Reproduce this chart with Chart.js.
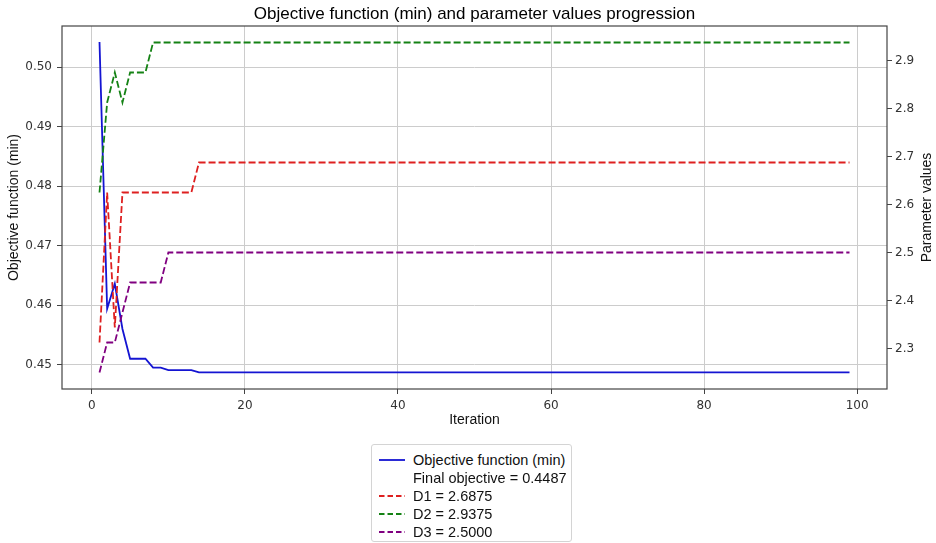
<!DOCTYPE html>
<html>
<head>
<meta charset="utf-8">
<title>Objective function and parameter progression</title>
<script src="https://cdn.jsdelivr.net/npm/chart.js@4.4.1/dist/chart.umd.min.js"></script>
<style>
  html, body { margin: 0; padding: 0; background: #fff; }
  #wrap { position: relative; width: 936px; height: 543px; }
  #legend {
    position: absolute; left: 371px; top: 444px; width: 201px; height: 98px;
    box-sizing: border-box; border: 1px solid #d4d4d4; border-radius: 3px; background: #fff;
    font-family: "Liberation Sans", Arial, sans-serif; font-size: 14.5px; color: #111;
  }
  #legend .row { position: absolute; left: 0; height: 18px; line-height: 18px; white-space: nowrap; }
  #legend svg { position: absolute; left: 7px; top: 0; }
  #legend span { position: absolute; left: 41px; top: 0; }
</style>
</head>
<body>
<div id="wrap">
  <canvas id="chart" width="936" height="543"></canvas>
  <div id="legend"></div>
</div>
<script>
// Iteration numbers (x axis)
const iterations = [
   1,  2,  3,  4,  5,  6,  7,  8,  9, 10,
  11, 12, 13, 14, 15, 16, 17, 18, 19, 20,
  21, 22, 23, 24, 25, 26, 27, 28, 29, 30,
  31, 32, 33, 34, 35, 36, 37, 38, 39, 40,
  41, 42, 43, 44, 45, 46, 47, 48, 49, 50,
  51, 52, 53, 54, 55, 56, 57, 58, 59, 60,
  61, 62, 63, 64, 65, 66, 67, 68, 69, 70,
  71, 72, 73, 74, 75, 76, 77, 78, 79, 80,
  81, 82, 83, 84, 85, 86, 87, 88, 89, 90,
  91, 92, 93, 94, 95, 96, 97, 98, 99
];

// Best objective value found so far (minimisation)
const objective = [
  0.5042, 0.4594, 0.4636, 0.4560, 0.4510, 0.4510, 0.4510, 0.4495, 0.4495, 0.4491,
  0.4491, 0.4491, 0.4491, 0.4487, 0.4487, 0.4487, 0.4487, 0.4487, 0.4487, 0.4487,
  0.4487, 0.4487, 0.4487, 0.4487, 0.4487, 0.4487, 0.4487, 0.4487, 0.4487, 0.4487,
  0.4487, 0.4487, 0.4487, 0.4487, 0.4487, 0.4487, 0.4487, 0.4487, 0.4487, 0.4487,
  0.4487, 0.4487, 0.4487, 0.4487, 0.4487, 0.4487, 0.4487, 0.4487, 0.4487, 0.4487,
  0.4487, 0.4487, 0.4487, 0.4487, 0.4487, 0.4487, 0.4487, 0.4487, 0.4487, 0.4487,
  0.4487, 0.4487, 0.4487, 0.4487, 0.4487, 0.4487, 0.4487, 0.4487, 0.4487, 0.4487,
  0.4487, 0.4487, 0.4487, 0.4487, 0.4487, 0.4487, 0.4487, 0.4487, 0.4487, 0.4487,
  0.4487, 0.4487, 0.4487, 0.4487, 0.4487, 0.4487, 0.4487, 0.4487, 0.4487, 0.4487,
  0.4487, 0.4487, 0.4487, 0.4487, 0.4487, 0.4487, 0.4487, 0.4487, 0.4487
];

// Parameter D1
const d1 = [
  2.3125, 2.625, 2.34375, 2.625, 2.625, 2.625, 2.625, 2.625, 2.625, 2.625,
  2.625, 2.625, 2.625, 2.6875, 2.6875, 2.6875, 2.6875, 2.6875, 2.6875, 2.6875,
  2.6875, 2.6875, 2.6875, 2.6875, 2.6875, 2.6875, 2.6875, 2.6875, 2.6875, 2.6875,
  2.6875, 2.6875, 2.6875, 2.6875, 2.6875, 2.6875, 2.6875, 2.6875, 2.6875, 2.6875,
  2.6875, 2.6875, 2.6875, 2.6875, 2.6875, 2.6875, 2.6875, 2.6875, 2.6875, 2.6875,
  2.6875, 2.6875, 2.6875, 2.6875, 2.6875, 2.6875, 2.6875, 2.6875, 2.6875, 2.6875,
  2.6875, 2.6875, 2.6875, 2.6875, 2.6875, 2.6875, 2.6875, 2.6875, 2.6875, 2.6875,
  2.6875, 2.6875, 2.6875, 2.6875, 2.6875, 2.6875, 2.6875, 2.6875, 2.6875, 2.6875,
  2.6875, 2.6875, 2.6875, 2.6875, 2.6875, 2.6875, 2.6875, 2.6875, 2.6875, 2.6875,
  2.6875, 2.6875, 2.6875, 2.6875, 2.6875, 2.6875, 2.6875, 2.6875, 2.6875
];

// Parameter D2
const d2 = [
  2.625, 2.8125, 2.875, 2.8125, 2.875, 2.875, 2.875, 2.9375, 2.9375, 2.9375,
  2.9375, 2.9375, 2.9375, 2.9375, 2.9375, 2.9375, 2.9375, 2.9375, 2.9375, 2.9375,
  2.9375, 2.9375, 2.9375, 2.9375, 2.9375, 2.9375, 2.9375, 2.9375, 2.9375, 2.9375,
  2.9375, 2.9375, 2.9375, 2.9375, 2.9375, 2.9375, 2.9375, 2.9375, 2.9375, 2.9375,
  2.9375, 2.9375, 2.9375, 2.9375, 2.9375, 2.9375, 2.9375, 2.9375, 2.9375, 2.9375,
  2.9375, 2.9375, 2.9375, 2.9375, 2.9375, 2.9375, 2.9375, 2.9375, 2.9375, 2.9375,
  2.9375, 2.9375, 2.9375, 2.9375, 2.9375, 2.9375, 2.9375, 2.9375, 2.9375, 2.9375,
  2.9375, 2.9375, 2.9375, 2.9375, 2.9375, 2.9375, 2.9375, 2.9375, 2.9375, 2.9375,
  2.9375, 2.9375, 2.9375, 2.9375, 2.9375, 2.9375, 2.9375, 2.9375, 2.9375, 2.9375,
  2.9375, 2.9375, 2.9375, 2.9375, 2.9375, 2.9375, 2.9375, 2.9375, 2.9375
];

// Parameter D3
const d3 = [
  2.25, 2.3125, 2.3125, 2.375, 2.4375, 2.4375, 2.4375, 2.4375, 2.4375, 2.5,
  2.5, 2.5, 2.5, 2.5, 2.5, 2.5, 2.5, 2.5, 2.5, 2.5,
  2.5, 2.5, 2.5, 2.5, 2.5, 2.5, 2.5, 2.5, 2.5, 2.5,
  2.5, 2.5, 2.5, 2.5, 2.5, 2.5, 2.5, 2.5, 2.5, 2.5,
  2.5, 2.5, 2.5, 2.5, 2.5, 2.5, 2.5, 2.5, 2.5, 2.5,
  2.5, 2.5, 2.5, 2.5, 2.5, 2.5, 2.5, 2.5, 2.5, 2.5,
  2.5, 2.5, 2.5, 2.5, 2.5, 2.5, 2.5, 2.5, 2.5, 2.5,
  2.5, 2.5, 2.5, 2.5, 2.5, 2.5, 2.5, 2.5, 2.5, 2.5,
  2.5, 2.5, 2.5, 2.5, 2.5, 2.5, 2.5, 2.5, 2.5, 2.5,
  2.5, 2.5, 2.5, 2.5, 2.5, 2.5, 2.5, 2.5, 2.5
];

// Tick positions
const xTicks = [0, 20, 40, 60, 80, 100];
const objTicks = [0.45, 0.46, 0.47, 0.48, 0.49, 0.50];
const paramTicks = [2.3, 2.4, 2.5, 2.6, 2.7, 2.8, 2.9];

// Texts
const chartTitle = 'Objective function (min) and parameter values progression';
const xTitle = 'Iteration';
const objTitle = 'Objective function (min)';
const paramTitle = 'Parameter values';

const SANS = '"Liberation Sans", Arial, sans-serif';
const TICK_FONT = { family: '"DejaVu Sans", sans-serif', size: 12 };
const TICK_COLOR = '#333';
const GRID_COLOR = '#cccccc';
const SPINE_COLOR = '#444';

const last = arr => arr[arr.length - 1];
const pts = arr => arr.map((v, i) => ({ x: iterations[i], y: v }));

const series = [
  { label: objTitle, data: objective, color: '#1414d2', dash: [], axis: 'y', order: 3 },
  { label: 'D1 = ' + last(d1).toFixed(4), data: d1, color: '#de2020', dash: [7, 3], axis: 'y2', order: 2 },
  { label: 'D2 = ' + last(d2).toFixed(4), data: d2, color: '#148214', dash: [7, 3], axis: 'y2', order: 1 },
  { label: 'D3 = ' + last(d3).toFixed(4), data: d3, color: '#800080', dash: [7, 3], axis: 'y2', order: 0 }
];

const fixedTicks = values => axis => { axis.ticks = values.map(v => ({ value: v })); };

// Frame, plot title and right-hand axis title
const decor = {
  id: 'decor',
  afterDatasetsDraw(chart) {
    const { ctx, chartArea: a } = chart;
    ctx.save();
    ctx.strokeStyle = SPINE_COLOR;
    ctx.lineWidth = 1.2;
    ctx.strokeRect(a.left, a.top, a.right - a.left, a.bottom - a.top);
    ctx.restore();
  },
  afterDraw(chart) {
    const { ctx, chartArea: a } = chart;
    ctx.save();
    ctx.fillStyle = '#000';
    ctx.textAlign = 'center';
    ctx.textBaseline = 'middle';
    ctx.font = '17px ' + SANS;
    ctx.fillText(chartTitle, (a.left + a.right) / 2, 14);
    ctx.translate(927, (a.top + a.bottom) / 2);
    ctx.rotate(-Math.PI / 2);
    ctx.font = '14px ' + SANS;
    ctx.fillStyle = '#111';
    ctx.fillText(paramTitle, 0, 0);
    ctx.restore();
  }
};

const chart = new Chart(document.getElementById('chart'), {
  type: 'line',
  data: {
    datasets: series.map(s => ({
      label: s.label,
      data: pts(s.data),
      borderColor: s.color,
      backgroundColor: s.color,
      borderWidth: 1.8,
      borderDash: s.dash,
      pointRadius: 0,
      tension: 0,
      fill: false,
      yAxisID: s.axis,
      order: s.order
    }))
  },
  options: {
    responsive: false,
    animation: false,
    devicePixelRatio: 1,
    layout: { padding: { top: 26, left: 0, right: 0, bottom: 0 } },
    plugins: { legend: { display: false }, title: { display: false }, tooltip: { enabled: false } },
    scales: {
      x: {
        type: 'linear',
        min: -3.9,
        max: 103.9,
        afterBuildTicks: fixedTicks(xTicks),
        afterFit: s => { s.height = 154; },
        grid: { color: GRID_COLOR, lineWidth: 1, drawTicks: true, tickLength: 5, tickColor: SPINE_COLOR, tickWidth: 1 },
        border: { display: false },
        ticks: { font: TICK_FONT, color: TICK_COLOR, padding: 5, maxRotation: 0, callback: v => String(v) },
        title: { display: true, text: xTitle, font: { family: SANS, size: 14 }, color: '#111', padding: { top: 0, bottom: 114 } }
      },
      y: {
        type: 'linear',
        position: 'left',
        min: 0.44592,
        max: 0.50690,
        afterBuildTicks: fixedTicks(objTicks),
        afterFit: s => { s.width = 62; },
        grid: { color: GRID_COLOR, lineWidth: 1, drawTicks: true, tickLength: 5, tickColor: SPINE_COLOR, tickWidth: 1 },
        border: { display: false },
        ticks: { font: TICK_FONT, color: TICK_COLOR, padding: 5, callback: v => v.toFixed(2) },
        title: { display: true, text: objTitle, font: { family: SANS, size: 14 }, color: '#111', padding: { top: 5.6, bottom: 0 } }
      },
      y2: {
        type: 'linear',
        position: 'right',
        min: 2.2156,
        max: 2.9719,
        afterBuildTicks: fixedTicks(paramTicks),
        afterFit: s => { s.width = 49; },
        grid: { drawOnChartArea: false, drawTicks: true, tickLength: 5, tickColor: SPINE_COLOR, tickWidth: 1 },
        border: { display: false },
        ticks: { font: TICK_FONT, color: TICK_COLOR, padding: 3, callback: v => v.toFixed(1) },
        title: { display: false }
      }
    }
  },
  plugins: [decor]
});

// Legend box under the plot, rows taken from the datasets
(function buildLegend() {
  const box = document.getElementById('legend');
  const rows = [
    { text: series[0].label, color: series[0].color, dash: series[0].dash },
    { text: 'Final objective = ' + last(objective).toFixed(4), color: null, dash: [] },
    { text: series[1].label, color: series[1].color, dash: series[1].dash },
    { text: series[2].label, color: series[2].color, dash: series[2].dash },
    { text: series[3].label, color: series[3].color, dash: series[3].dash }
  ];
  rows.forEach((r, i) => {
    const row = document.createElement('div');
    row.className = 'row';
    row.style.top = (6 + i * 18) + 'px';
    row.style.width = '198px';
    if (r.color) {
      const svgNS = 'http://www.w3.org/2000/svg';
      const svg = document.createElementNS(svgNS, 'svg');
      svg.setAttribute('width', '26');
      svg.setAttribute('height', '18');
      const ln = document.createElementNS(svgNS, 'line');
      ln.setAttribute('x1', '0'); ln.setAttribute('x2', '26');
      ln.setAttribute('y1', '9'); ln.setAttribute('y2', '9');
      ln.setAttribute('stroke', r.color);
      ln.setAttribute('stroke-width', '1.8');
      if (r.dash.length) ln.setAttribute('stroke-dasharray', '5.5 3');
      svg.appendChild(ln);
      row.appendChild(svg);
    }
    const sp = document.createElement('span');
    sp.textContent = r.text;
    row.appendChild(sp);
    box.appendChild(row);
  });
})();
</script>
</body>
</html>
